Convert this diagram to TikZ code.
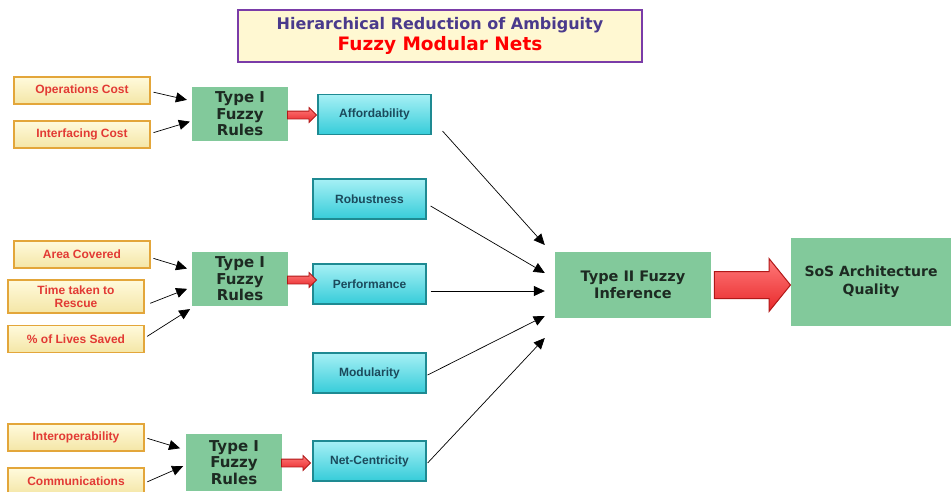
\documentclass[tikz,border=0pt]{standalone}
\usepackage{fontspec}
\setmainfont{Liberation Sans}
\newfontfamily\verdfont{DejaVu Sans}
\usetikzlibrary{arrows.meta,shapes.arrows}

\definecolor{titlepurple}{HTML}{4A3A8C}
\definecolor{titleborder}{HTML}{7A3CA8}
\definecolor{titlefill}{HTML}{FFF8D2}
\definecolor{inred}{HTML}{E23A34}
\definecolor{inborder}{HTML}{E3A63A}
\definecolor{intop}{HTML}{FFFADC}
\definecolor{inbot}{HTML}{F4E6A6}
\definecolor{rulegreen}{HTML}{82C99B}
\definecolor{ruletext}{HTML}{1D2A22}
\definecolor{modborder}{HTML}{1E8A92}
\definecolor{modtop}{HTML}{A6F0F5}
\definecolor{modbot}{HTML}{36CCD9}
\definecolor{modtext}{HTML}{1B4A5C}
\definecolor{arrowtop}{HTML}{FF7A7A}
\definecolor{arrowbot}{HTML}{E8282A}
\definecolor{arrowborder}{HTML}{B01818}

\tikzset{
  input/.style={draw=inborder, line width=1.2pt, top color=intop, bottom color=inbot,
    minimum width=136pt, minimum height=27pt, inner sep=0pt, align=center,
    text=inred, font=\fontsize{12}{13.5}\selectfont\bfseries},
  rules/.style={fill=rulegreen, minimum width=96pt, minimum height=54pt, inner sep=0pt,
    align=center, text=ruletext, font=\verdfont\fontsize{15}{16.5}\selectfont\bfseries},
  module/.style={draw=modborder, line width=1.2pt, top color=modtop, bottom color=modbot,
    minimum width=113pt, minimum height=40pt, inner sep=0pt,
    text=modtext, font=\fontsize{12}{14}\selectfont\bfseries},
  redarrow/.style={single arrow, draw=arrowborder, line width=0.8pt,
    top color=arrowtop, bottom color=arrowbot},
  feed/.style={-{Triangle[length=11pt,width=10pt]}, line width=0.7pt},
}

\begin{document}
\begin{tikzpicture}[x=1pt,y=-1pt]
\useasboundingbox (0,0) rectangle (951,491);

% title
\node[draw=titleborder, line width=1.6pt, fill=titlefill, minimum width=404pt,
  minimum height=52pt, align=center, font=\verdfont\bfseries] (title) at (440,36)
  {\textcolor{titlepurple}{\fontsize{16}{21}\selectfont Hierarchical Reduction of Ambiguity}\\[3pt]
   \textcolor{red}{\fontsize{18.5}{24}\selectfont Fuzzy Modular Nets}};

% inputs
\node[input] (op) at (82,90.5) {Operations Cost};
\node[input] (ic) at (82,134.5) {Interfacing Cost};
\node[input] (ac) at (82,254.5) {Area Covered};
\node[input, minimum height=33pt] (tr) at (76,296.5) {Time taken to\\Rescue};
\node[input] (ls) at (76,339) {\% of Lives Saved};
\node[input] (io) at (76,437.5) {Interoperability};
\node[input] (cm) at (76,481.5) {Communications};

% type I rules
\node[rules] (r1) at (240,114) {Type I\\Fuzzy\\Rules};
\node[rules] (r2) at (240,279) {Type I\\Fuzzy\\Rules};
\node[rules, minimum height=57pt] (r3) at (234,462.5) {Type I\\Fuzzy\\Rules};

% modules
\node[module] (aff) at (374.5,114.5) {Affordability};
\node[module] (rob) at (369.5,199) {Robustness};
\node[module] (per) at (369.5,284) {Performance};
\node[module] (mod) at (369.5,373) {Modularity};
\node[module] (net) at (369.5,461) {Net-Centricity};

% type II and result
\node[rules, minimum width=156pt, minimum height=66pt,
  font=\verdfont\fontsize{14.5}{16.5}\selectfont\bfseries] (t2) at (633,285)
  {Type II Fuzzy\\Inference};
\node[rules, minimum width=160pt, minimum height=88pt,
  font=\verdfont\fontsize{14}{18}\selectfont\bfseries] (sos) at (871,282)
  {SoS Architecture\\Quality};

% red block arrows
\node[redarrow, minimum height=29pt, inner ysep=3.5pt, single arrow head extend=3.5pt] (a1) at (300,115) {};
\node[redarrow, minimum height=29pt, inner ysep=3.5pt, single arrow head extend=3.5pt] (a2) at (300,280) {};
\node[redarrow, minimum height=29pt, inner ysep=3.5pt, single arrow head extend=3.5pt] (a3) at (294,463) {};
\node[redarrow, minimum height=76pt, inner ysep=13pt, single arrow head extend=13pt,
  single arrow tip angle=102, line width=1pt] (a4) at (747,285) {};

% inputs to rules
\draw[feed, shorten <=3pt, shorten >=5pt] ([yshift=-1pt]op.east) -- ([yshift=13pt]r1.west);
\draw[feed, shorten <=3pt, shorten >=2pt] ([yshift=1pt]ic.east) -- ([yshift=-7pt]r1.west);
\draw[feed, shorten <=3pt, shorten >=5pt] ([yshift=-3pt]ac.east) -- ([yshift=9pt]r2.west);
\draw[feed, shorten <=6pt, shorten >=5pt] ([yshift=-9pt]tr.east) -- ([yshift=-8pt]r2.west);
\draw[feed, shorten <=3pt, shorten >=2pt] ([yshift=1pt]ls.east) -- ([yshift=-29pt]r2.west);
\draw[feed, shorten <=3pt, shorten >=6pt] ([yshift=0pt]io.east) -- ([yshift=12.5pt]r3.west);
\draw[feed, shorten <=3pt, shorten >=3pt] ([yshift=-1.5pt]cm.east) -- ([yshift=-2.5pt]r3.west);

% modules to type II
\draw[feed] ([xshift=11pt,yshift=4pt]aff.south east) -- ([xshift=-10pt,yshift=40pt]t2.west);
\draw[feed] ([xshift=4pt,yshift=-7pt]rob.east) -- ([xshift=-10pt,yshift=12pt]t2.west);
\draw[feed] ([xshift=4pt,yshift=-7pt]per.east) -- ([xshift=-10pt,yshift=-6pt]t2.west);
\draw[feed] ([xshift=1pt,yshift=-2pt]mod.east) -- ([xshift=-10pt,yshift=-31pt]t2.west);
\draw[feed] ([xshift=1pt,yshift=-2pt]net.east) -- ([xshift=-10pt,yshift=-53pt]t2.west);
\end{tikzpicture}
\end{document}
